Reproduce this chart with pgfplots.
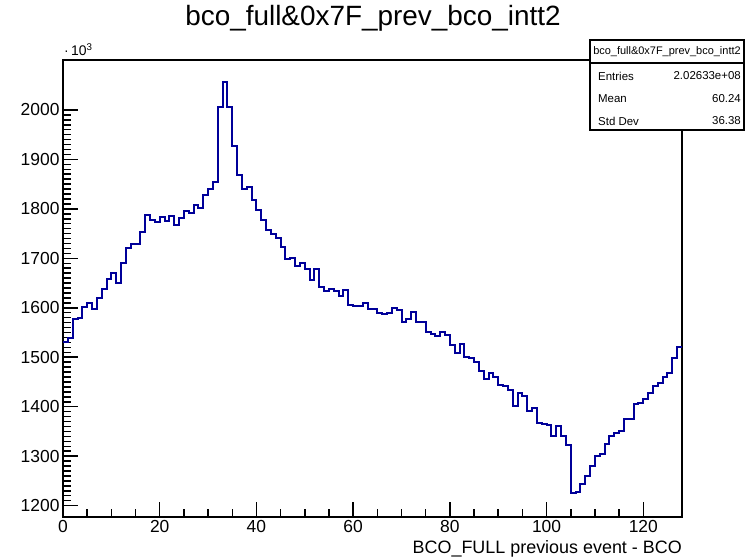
\documentclass[border=0pt]{standalone}
\usepackage{pgfplots}
\pgfplotsset{compat=1.18}
\usepackage{fontspec}
\setmainfont{Liberation Sans}
\definecolor{rootblue}{RGB}{0,0,153}

\begin{document}
\begin{tikzpicture}
\path[use as bounding box] (-63bp,-41bp) rectangle (683bp,517bp);
\begin{axis}[
  at={(0,0)}, anchor=south west,
  width=619bp, height=457bp, scale only axis,
  xmin=0, xmax=128, ymin=1177, ymax=2101,
  xtick={0,20,...,120}, ytick={1200,1300,...,2000},
  minor x tick num=3, minor y tick num=9,
  tick pos=left, tick align=inside,
  major tick length=15bp, minor tick length=8bp,
  axis line style={line width=1.6bp},
  every tick/.style={black, line width=1.5bp},
  ticklabel style={font=\fontsize{17.5}{17.5}\selectfont},
  /pgf/number format/assume math mode=true,
  /pgf/number format/1000 sep={},
  scaled y ticks=false,
]
% bin contents (x 10^3), 128 bins of width 1
\addplot[const plot, rootblue, line width=2bp, line join=miter] coordinates {
(0,1531) (1,1538) (2,1578) (3,1580) (4,1602) (5,1609) (6,1597) (7,1620)
(8,1637) (9,1658) (10,1671) (11,1650) (12,1690) (13,1720) (14,1729) (15,1729)
(16,1754) (17,1788) (18,1778) (19,1774) (20,1784) (21,1776) (22,1786) (23,1768)
(24,1781) (25,1796) (26,1791) (27,1807) (28,1801) (29,1828) (30,1840) (31,1855)
(32,2005) (33,2056) (34,2005) (35,1928) (36,1869) (37,1841) (38,1845) (39,1817)
(40,1798) (41,1778) (42,1758) (43,1749) (44,1741) (45,1723) (46,1698) (47,1700)
(48,1684) (49,1691) (50,1679) (51,1656) (52,1678) (53,1643) (54,1633) (55,1637)
(56,1634) (57,1623) (58,1636) (59,1606) (60,1603) (61,1603) (62,1610) (63,1597)
(64,1597) (65,1590) (66,1587) (67,1590) (68,1599) (69,1595) (70,1572) (71,1577)
(72,1592) (73,1572) (74,1572) (75,1552) (76,1548) (77,1543) (78,1552) (79,1545)
(80,1525) (81,1508) (82,1526) (83,1501) (84,1499) (85,1491) (86,1472) (87,1456)
(88,1469) (89,1461) (90,1444) (91,1441) (92,1434) (93,1401) (94,1427) (95,1421)
(96,1391) (97,1397) (98,1368) (99,1365) (100,1362) (101,1340) (102,1360) (103,1341)
(104,1323) (105,1226) (106,1228) (107,1243) (108,1259) (109,1280) (110,1301) (111,1304)
(112,1325) (113,1341) (114,1346) (115,1351) (116,1375) (117,1375) (118,1405) (119,1407)
(120,1415) (121,1427) (122,1442) (123,1448) (124,1461) (125,1468) (126,1498) (127,1520)
(128,1520)
};
\end{axis}
% title, axis texts, stats box
\node[font=\fontsize{28}{28}\selectfont] at (310bp,499bp) {bco\_full\&0x7F\_prev\_bco\_intt2};
\node[anchor=base west, font=\fontsize{14}{14}\selectfont, inner sep=0pt] at (1bp,461bp) {·\,10\textsuperscript{3}};
\node[anchor=base east, font=\fontsize{18}{18}\selectfont, inner sep=0pt] at (619bp,-36bp) {BCO\_FULL previous event - BCO};
\draw[fill=white, line width=1.6bp] (527bp,387bp) rectangle (681bp,477bp);
\draw[line width=1.6bp] (527bp,454bp) -- (681bp,454bp);
\node[font=\fontsize{11}{11}\selectfont] at (604bp,465.5bp) {bco\_full\&0x7F\_prev\_bco\_intt2};
\begin{scope}[every node/.style={font=\fontsize{11.5}{11.5}\selectfont, inner sep=0pt}]
\node[anchor=west] at (535bp,441bp) {Entries};
\node[anchor=east] at (678bp,441bp) {2.02633e+08};
\node[anchor=west] at (535bp,418bp) {Mean};
\node[anchor=east] at (678bp,418bp) {60.24};
\node[anchor=west] at (535bp,396bp) {Std Dev};
\node[anchor=east] at (678bp,396bp) {36.38};
\end{scope}
\end{tikzpicture}
\end{document}
